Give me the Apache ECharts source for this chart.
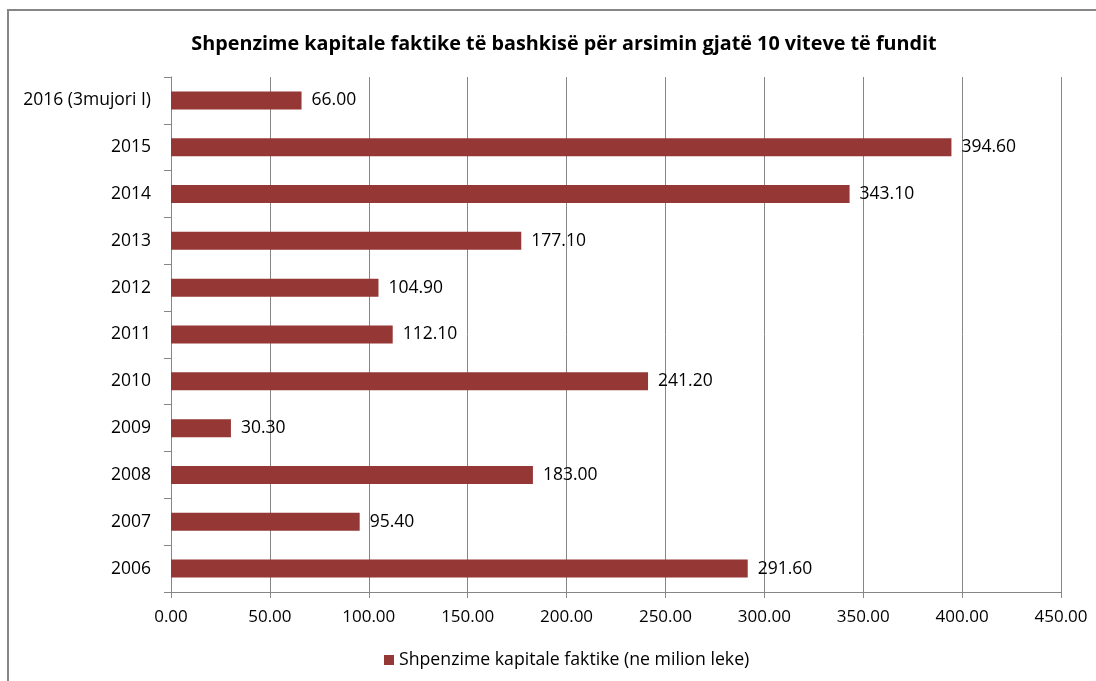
<!DOCTYPE html>
<html>
<head>
<meta charset="utf-8">
<script src="https://cdn.jsdelivr.net/npm/echarts@6/dist/echarts.min.js"></script>
<style>
  html, body { margin: 0; padding: 0; background: #fff; }
  #frame { position: absolute; left: 7px; top: 9px; width: 1100px; height: 690px; border: 2px solid #868686; box-sizing: border-box; }
  #chart { position: absolute; left: 0; top: 0; width: 1096px; height: 681px; }
</style>
</head>
<body>
<div id="frame"></div>
<div id="chart"></div>
<script>
  var titleText = 'Shpenzime kapitale faktike të bashkisë për arsimin gjatë 10 viteve të fundit';
  var seriesName = 'Shpenzime kapitale faktike (ne milion leke)';
  var categories = ['2006', '2007', '2008', '2009', '2010', '2011', '2012', '2013', '2014', '2015', '2016 (3mujori I)'];
  var values = [291.6, 95.4, 183.0, 30.3, 241.2, 112.1, 104.9, 177.1, 343.1, 394.6, 66.0];

  var font = '"Open Sans", sans-serif';
  var chart = echarts.init(document.getElementById('chart'));
  chart.setOption({
    animation: false,
    title: {
      text: titleText,
      left: 559,
      textAlign: 'center',
      top: 29,
      textStyle: { fontFamily: font, fontWeight: 'bold', fontSize: 19.8, color: '#000' }
    },
    legend: {
      data: [seriesName],
      bottom: 7,
      left: 379,
      icon: 'rect',
      itemWidth: 10,
      itemHeight: 10,
      itemGap: 6,
      textStyle: { fontFamily: font, fontSize: 17.7, color: '#000' }
    },
    grid: { left: 171, right: 35, top: 77, bottom: 89 },
    xAxis: {
      type: 'value',
      min: 0,
      max: 450,
      interval: 50,
      axisLine: { show: true, lineStyle: { color: '#868686' } },
      axisTick: { show: true, length: 6, lineStyle: { color: '#868686' } },
      splitLine: { show: true, lineStyle: { color: '#868686' } },
      axisLabel: {
        margin: 17,
        fontFamily: font, fontSize: 17, color: '#000',
        formatter: function (v) { return v.toFixed(2); }
      }
    },
    yAxis: {
      type: 'category',
      data: categories,
      axisLine: { show: true, lineStyle: { color: '#868686' } },
      axisTick: { show: true, length: 7, lineStyle: { color: '#868686' } },
      axisLabel: { margin: 20, fontFamily: font, fontSize: 17.5, color: '#000' }
    },
    series: [{
      name: seriesName,
      type: 'bar',
      data: values,
      barWidth: 18,
      itemStyle: { color: '#953735' },
      label: {
        show: true,
        position: 'right',
        distance: 10,
        fontFamily: font, fontSize: 17.5, color: '#000',
        formatter: function (p) { return p.value.toFixed(2); }
      }
    }]
  });
</script>
</body>
</html>
